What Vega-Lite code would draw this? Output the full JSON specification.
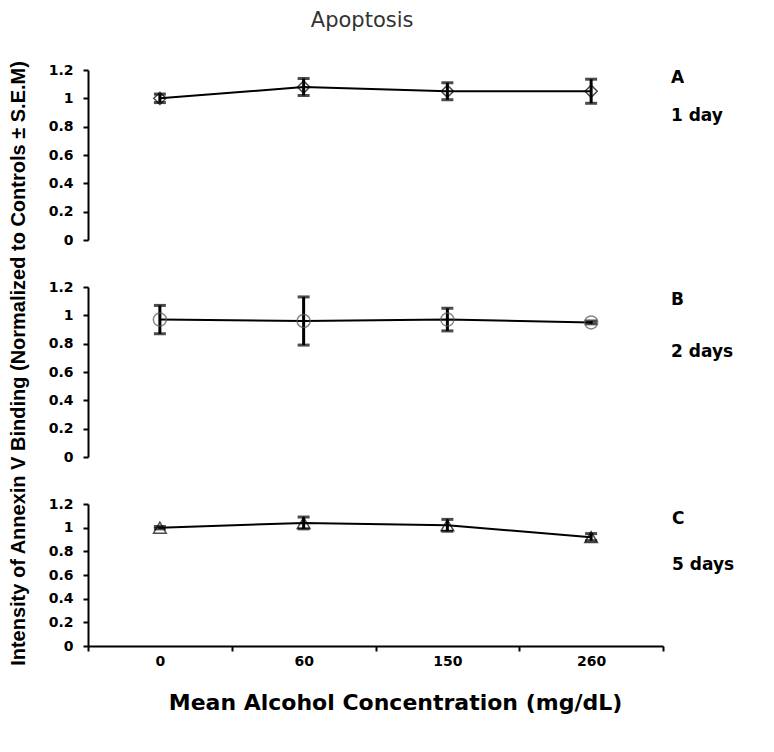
{
  "$schema": "https://vega.github.io/schema/vega-lite/v6.json",
  "background": "white",
  "padding": {"left": 8, "top": 10, "right": 5, "bottom": 5},
  "bounds": "flush",
  "spacing": 47,
  "title": {"text": "Apoptosis", "font": "DejaVu Sans", "fontSize": 21, "fontWeight": "normal", "color": "#333333", "anchor": "middle", "offset": 29, "dx": -9},
  "config": {
    "font": "Liberation Sans",
    "view": {"stroke": null},
    "axis": {"domainColor": "black", "domainWidth": 2, "tickColor": "black", "tickWidth": 2, "tickSize": 5, "labelColor": "black", "labelFont": "DejaVu Sans", "labelFontSize": 14, "labelFontWeight": "bold", "labelPadding": 10, "labelOverlap": false, "grid": false, "titleColor": "black", "titleFontWeight": "bold", "titleFontSize": 16}
  },
  "data": {"values": [
    {"panel": "A", "conc": "0", "mean": 1.0, "sem": 0.03},
    {"panel": "A", "conc": "60", "mean": 1.08, "sem": 0.06},
    {"panel": "A", "conc": "150", "mean": 1.05, "sem": 0.06},
    {"panel": "A", "conc": "260", "mean": 1.05, "sem": 0.085},
    {"panel": "B", "conc": "0", "mean": 0.97, "sem": 0.1},
    {"panel": "B", "conc": "60", "mean": 0.96, "sem": 0.17},
    {"panel": "B", "conc": "150", "mean": 0.97, "sem": 0.08},
    {"panel": "B", "conc": "260", "mean": 0.95, "sem": 0.01},
    {"panel": "C", "conc": "0", "mean": 1.0, "sem": 0.01},
    {"panel": "C", "conc": "60", "mean": 1.04, "sem": 0.05},
    {"panel": "C", "conc": "150", "mean": 1.02, "sem": 0.05},
    {"panel": "C", "conc": "260", "mean": 0.92, "sem": 0.03}
  ]},
  "vconcat": [
    {
      "width": 575, "height": 170,
      "title": {"text": ["A", "1 day"], "orient": "right", "frame": "group", "angle": 0, "anchor": "start", "align": "left", "baseline": "top", "font": "DejaVu Sans", "fontSize": 17, "fontWeight": "bold", "color": "black", "lineHeight": 38, "offset": -44},
      "transform": [{"filter": "datum.panel === 'A'"}],
      "encoding": {
        "x": {"field": "conc", "type": "ordinal", "sort": ["0", "60", "150", "260"], "scale": {"type": "band", "paddingInner": 0, "paddingOuter": 0}, "axis": null},
        "y": {"field": "mean", "type": "quantitative", "title": null, "scale": {"domain": [0, 1.2], "nice": false}, "axis": {"title": null, "labelFontSize": 14, "values": [0, 0.2, 0.4, 0.6, 0.8, 1, 1.2], "format": ".1~f"}}
      },
      "layer": [
        {"mark": {"type": "line", "color": "black", "strokeWidth": 2}},
        {"mark": {"type": "errorbar", "ticks": {"size": 12, "thickness": 3, "color": "black"}, "rule": {"strokeWidth": 3, "color": "black"}}, "encoding": {"yError": {"field": "sem"}}},
        {"mark": {"type": "point", "shape": "diamond", "filled": false, "stroke": "black", "strokeWidth": 1.5, "size": 150}}
      ]
    },
    {
      "width": 575, "height": 170,
      "title": {"text": ["B", "2 days"], "orient": "right", "frame": "group", "angle": 0, "anchor": "start", "align": "left", "baseline": "top", "font": "DejaVu Sans", "fontSize": 17, "fontWeight": "bold", "color": "black", "lineHeight": 52, "offset": -54, "dy": 5},
      "transform": [{"filter": "datum.panel === 'B'"}],
      "encoding": {
        "x": {"field": "conc", "type": "ordinal", "sort": ["0", "60", "150", "260"], "scale": {"type": "band", "paddingInner": 0, "paddingOuter": 0}, "axis": null},
        "y": {"field": "mean", "type": "quantitative", "title": "Intensity of Annexin V Binding (Normalized to Controls ± S.E.M)", "scale": {"domain": [0, 1.2], "nice": false}, "axis": {"titleFontSize": 20, "titlePadding": 20, "titleY": 76, "labelFontSize": 14, "values": [0, 0.2, 0.4, 0.6, 0.8, 1, 1.2], "format": ".1~f"}}
      },
      "layer": [
        {"mark": {"type": "line", "color": "black", "strokeWidth": 2}},
        {"mark": {"type": "errorbar", "ticks": {"size": 12, "thickness": 3, "color": "black"}, "rule": {"strokeWidth": 3, "color": "black"}}, "encoding": {"yError": {"field": "sem"}}},
        {"mark": {"type": "point", "shape": "circle", "filled": false, "stroke": "#555555", "strokeWidth": 1.5, "size": 170}}
      ]
    },
    {
      "width": 575, "height": 142,
      "title": {"text": ["C", "5 days"], "orient": "right", "frame": "group", "angle": 0, "anchor": "start", "align": "left", "baseline": "top", "font": "DejaVu Sans", "fontSize": 17, "fontWeight": "bold", "color": "black", "lineHeight": 46, "offset": -54, "dy": 7},
      "transform": [{"filter": "datum.panel === 'C'"}],
      "encoding": {
        "x": {"field": "conc", "type": "ordinal", "sort": ["0", "60", "150", "260"], "scale": {"type": "band", "paddingInner": 0, "paddingOuter": 0}, "axis": {"title": "Mean Alcohol Concentration (mg/dL)", "titleFont": "DejaVu Sans", "labelAngle": 0, "labelFontSize": 14, "labelPadding": 3, "tickBand": "extent", "titlePadding": 24, "titleX": 307, "titleFontSize": 22}},
        "y": {"field": "mean", "type": "quantitative", "title": null, "scale": {"domain": [0, 1.2], "nice": false}, "axis": {"title": null, "labelFontSize": 14, "values": [0, 0.2, 0.4, 0.6, 0.8, 1, 1.2], "format": ".1~f"}}
      },
      "layer": [
        {"mark": {"type": "line", "color": "black", "strokeWidth": 2}},
        {"mark": {"type": "errorbar", "ticks": {"size": 12, "thickness": 3, "color": "black"}, "rule": {"strokeWidth": 3, "color": "black"}}, "encoding": {"yError": {"field": "sem"}}},
        {"mark": {"type": "point", "shape": "triangle-up", "filled": false, "stroke": "black", "strokeWidth": 1.5, "size": 160}}
      ]
    }
  ]
}
